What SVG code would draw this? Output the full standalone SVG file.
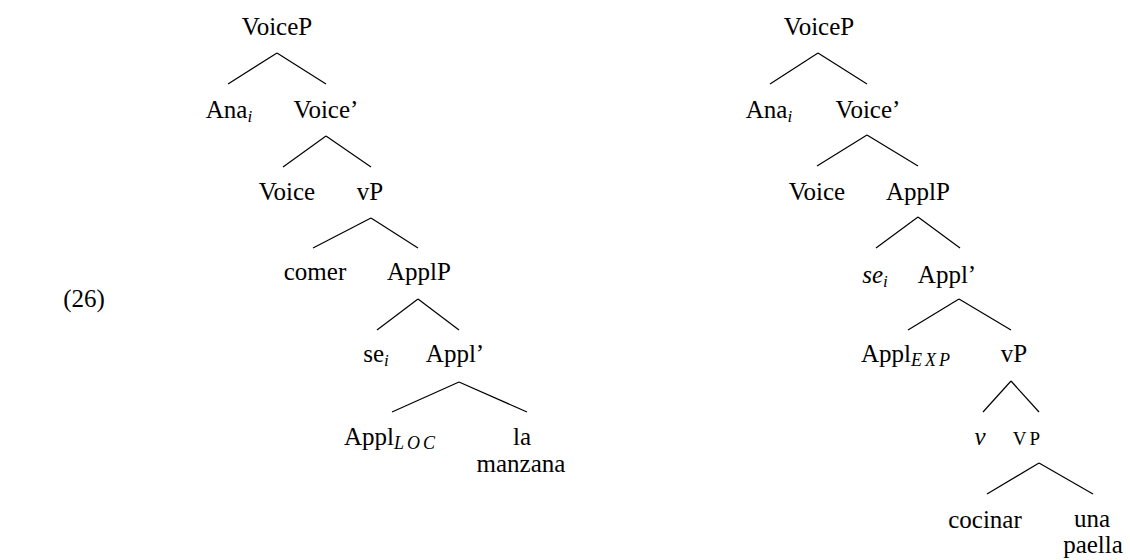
<svg xmlns="http://www.w3.org/2000/svg" width="1130" height="560" viewBox="0 0 1130 560">
  <style>
    text { font-family: "Liberation Serif", "Times New Roman", serif; font-size: 25px; fill: #000; text-anchor: middle; }
    .it { font-style: italic; }
    .sub { font-size: 17px; font-style: italic; }
    .subw { font-size: 18px; font-style: italic; letter-spacing: 3px; }
    .sc { font-size: 19px; letter-spacing: 3px; }
    .edges line { stroke: #000; stroke-width: 1.2; }
  </style>
  <rect width="1130" height="560" fill="#fff"/>

  <!-- example number -->
  <text id="exnum" x="84" y="307">(26)</text>

  <!-- left tree: comer se la manzana -->
  <g id="tree-left">
    <g class="edges" id="edges-left">
      <line x1="277" y1="53" x2="228" y2="84"/>
      <line x1="277" y1="53" x2="326" y2="84"/>
      <line x1="326" y1="136" x2="283" y2="167"/>
      <line x1="326" y1="136" x2="371" y2="167"/>
      <line x1="371" y1="218" x2="313" y2="248"/>
      <line x1="371" y1="218" x2="418" y2="248"/>
      <line x1="418" y1="299" x2="377" y2="330"/>
      <line x1="418" y1="299" x2="459" y2="330"/>
      <line x1="459" y1="382" x2="392" y2="412"/>
      <line x1="459" y1="382" x2="527" y2="412"/>
    </g>
    <g id="L-VoiceP"><text x="277" y="35">VoiceP</text></g>
    <g id="L-Ana"><text x="229" y="118">Ana<tspan class="sub" dy="4">i</tspan></text></g>
    <g id="L-VoiceBar"><text x="326" y="118">Voice’</text></g>
    <g id="L-Voice"><text x="287" y="200">Voice</text></g>
    <g id="L-vP"><text x="370" y="200">vP</text></g>
    <g id="L-comer"><text x="315" y="280">comer</text></g>
    <g id="L-ApplP"><text x="419" y="280">ApplP</text></g>
    <g id="L-se"><text x="376" y="362">se<tspan class="sub" dy="4">i</tspan></text></g>
    <g id="L-ApplBar"><text x="455" y="362">Appl’</text></g>
    <g id="L-Appl"><text x="391" y="445">Appl<tspan class="subw" dy="4">LOC</tspan></text></g>
    <g id="L-obj">
      <text x="522" y="445">la</text>
      <text x="521" y="472">manzana</text>
    </g>
  </g>

  <!-- right tree: cocinar se una paella -->
  <g id="tree-right">
    <g class="edges" id="edges-right">
      <line x1="818" y1="53" x2="770" y2="84"/>
      <line x1="818" y1="53" x2="867" y2="84"/>
      <line x1="867" y1="135" x2="817" y2="166"/>
      <line x1="867" y1="135" x2="918" y2="166"/>
      <line x1="918" y1="217" x2="876" y2="248"/>
      <line x1="918" y1="217" x2="960" y2="248"/>
      <line x1="959" y1="299" x2="908" y2="330"/>
      <line x1="959" y1="299" x2="1011" y2="330"/>
      <line x1="1011" y1="381" x2="983" y2="412"/>
      <line x1="1011" y1="381" x2="1039" y2="412"/>
      <line x1="1039" y1="463" x2="987" y2="494"/>
      <line x1="1039" y1="463" x2="1093" y2="494"/>
    </g>
    <g id="R-VoiceP"><text x="819" y="35">VoiceP</text></g>
    <g id="R-Ana"><text x="769" y="118">Ana<tspan class="sub" dy="4">i</tspan></text></g>
    <g id="R-VoiceBar"><text x="868" y="118">Voice’</text></g>
    <g id="R-Voice"><text x="817" y="200">Voice</text></g>
    <g id="R-ApplP"><text x="918" y="200">ApplP</text></g>
    <g id="R-se"><text x="875" y="283"><tspan class="it">se</tspan><tspan class="sub" dy="4">i</tspan></text></g>
    <g id="R-ApplBar"><text x="947" y="283">Appl’</text></g>
    <g id="R-Appl"><text x="907" y="362">Appl<tspan class="subw" dy="4">EXP</tspan></text></g>
    <g id="R-vP"><text x="1014" y="362">vP</text></g>
    <g id="R-v"><text class="it" x="980" y="445">v</text></g>
    <g id="R-VP"><text class="sc" x="1028" y="445">VP</text></g>
    <g id="R-cocinar"><text x="985" y="528">cocinar</text></g>
    <g id="R-obj">
      <text x="1092" y="527">una</text>
      <text x="1093" y="553">paella</text>
    </g>
  </g>
</svg>
